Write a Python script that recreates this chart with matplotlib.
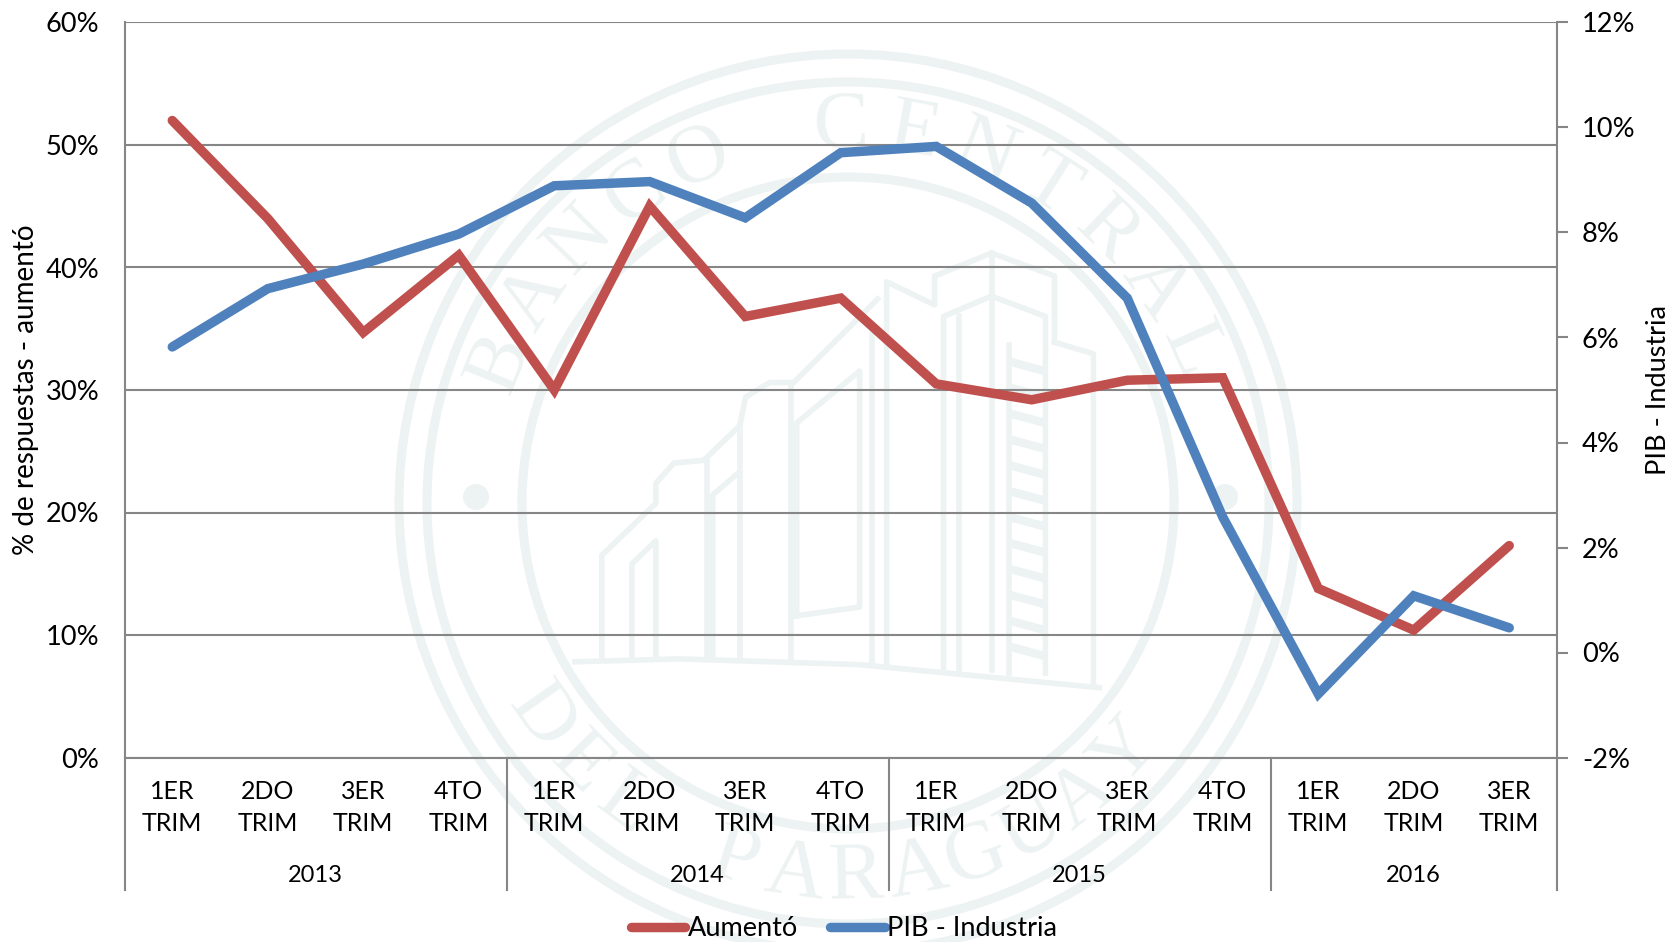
import numpy as np
import matplotlib
matplotlib.use("Agg")
import matplotlib.pyplot as plt
from matplotlib.patches import Circle
from matplotlib.transforms import blended_transform_factory

plt.rcParams['font.family'] = ['Lato', 'DejaVu Sans']

quarters = ['1ER\nTRIM', '2DO\nTRIM', '3ER\nTRIM', '4TO\nTRIM'] * 3 + ['1ER\nTRIM', '2DO\nTRIM', '3ER\nTRIM']
years = ['2013', '2014', '2015', '2016']
year_counts = [4, 4, 4, 3]
aumento = [52, 44, 34.7, 41, 30, 45, 36, 37.5, 30.5, 29.2, 30.8, 31, 13.8, 10.4, 17.3]
pib = [5.82, 6.93, 7.4, 7.97, 8.89, 8.97, 8.28, 9.52, 9.64, 8.56, 6.75, 2.58, -0.79, 1.08, 0.47]
left_ticks = [0, 10, 20, 30, 40, 50, 60]
right_ticks = [-2, 0, 2, 4, 6, 8, 10, 12]

W, H = 1673, 942
RED, BLUE, GRID, WM = '#C0504D', '#4F81BD', '#868686', '#EDF2F2'
FS = 18
FS_BIG = 19.6

fig = plt.figure(figsize=(W / 100, H / 100), dpi=100, facecolor='white')

# ---- watermark seal (pixel coordinates) ----
bg = fig.add_axes([0, 0, 1, 1], zorder=-1)
bg.set_xlim(0, W); bg.set_ylim(H, 0); bg.axis('off')
cx, cy = 848, 503
for r in (449, 421, 326):
    bg.add_patch(Circle((cx, cy), r, fill=False, ec=WM, lw=6.5))
for dx in (-372, 377):
    bg.add_patch(Circle((cx + dx, 497), 13, fc=WM, ec='none'))

def arc_text(s, a0, a1, r, top=True):
    n = len(s)
    for i, ch in enumerate(s):
        a = np.radians(a0 + (a1 - a0) * i / (n - 1))
        if top:
            x, y = cx + r * np.sin(a), cy - r * np.cos(a)
            rot = -np.degrees(a)
        else:
            x, y = cx + r * np.sin(a), cy + r * np.cos(a)
            rot = np.degrees(a)
        bg.text(x, y, ch, rotation=rot, rotation_mode='anchor', ha='center', va='center',
                fontsize=60, color=WM, family='Liberation Serif')

arc_text('BANCO CENTRAL', -68, 66, 375, True)
arc_text('DEL PARAGUAY', -55, 48, 375, False)

def P(pts):
    a = np.array(pts, dtype=float)
    return a[:, 0] / 1.668 + 380, a[:, 1] / 1.737 + 40

building = [
    [(325, 1080), (500, 1075), (800, 1085), (1200, 1125)],
    [(370, 1075), (370, 895), (460, 805), (460, 770), (490, 735), (540, 730), (600, 670), (610, 620),
     (650, 595), (690, 595), (830, 450)],
    [(420, 1075), (420, 910), (460, 870), (460, 1075)],
    [(545, 730), (545, 1075)], [(555, 1075), (555, 790), (600, 750)], [(600, 670), (600, 1075)],
    [(685, 595), (685, 1075)],
    [(695, 1000), (800, 985), (800, 575), (695, 665), (695, 1000)],
    [(820, 510), (820, 1080)],
    [(845, 1085), (845, 420), (925, 460), (925, 410), (1020, 370), (1125, 410), (1125, 520)],
    [(940, 1090), (940, 480), (1020, 445), (1110, 480), (1110, 1100)],
    [(965, 1095), (965, 480)], [(1020, 370), (1020, 1095)],
    [(1190, 1120), (1190, 545), (1125, 525)], [(1050, 530), (1050, 1100)],
]
for seg in building:
    bg.plot(*P(seg), color=WM, lw=4, solid_joinstyle='round')
for yy in np.arange(560, 1100, 45):
    bg.plot(*P([(1055, yy), (1105, yy + 14)]), color=WM, lw=6)

# ---- main axes ----
L, R, T, B = 124.5, 1557, 22.5, 757.5
ax = fig.add_axes([L / W, 1 - B / H, (R - L) / W, (B - T) / H])
ax.patch.set_alpha(0)
x = np.arange(len(aumento))
ax.set_xlim(-0.5, len(aumento) - 0.5)
ax.set_ylim(0, 60)
ax.set_yticks(left_ticks)
ax.set_yticklabels([f'{v}%' for v in left_ticks], fontsize=FS_BIG, color='black')
ax.tick_params(axis='y', length=0, pad=18)
ax.grid(axis='y', color=GRID, lw=1.5)
ax.set_axisbelow(True)
ax.set_xticks(x)
ax.set_xticklabels(quarters, fontsize=FS, linespacing=1.45)
ax.tick_params(axis='x', length=0, pad=16.5)
for s in ('top', 'right'):
    ax.spines[s].set_visible(False)
for s in ('left', 'bottom'):
    ax.spines[s].set_color(GRID); ax.spines[s].set_linewidth(1.5)
ax.set_ylabel('% de respuestas - aumentó', fontsize=20, va='center')
ax.yaxis.set_label_coords((26 - L) / (R - L), 0.5)
l1, = ax.plot(x, aumento, color=RED, lw=6.8, solid_capstyle='round', solid_joinstyle='miter', label='Aumentó')

ax2 = ax.twinx()
ax2.patch.set_alpha(0)
ax2.set_ylim(-2, 12)
ax2.set_yticks(right_ticks)
ax2.set_yticklabels([f'{v}%' for v in right_ticks], fontsize=FS_BIG)
ax2.tick_params(axis='y', length=8, width=1.5, color=GRID, pad=10)
for s in ('top', 'left', 'bottom'):
    ax2.spines[s].set_visible(False)
ax2.spines['right'].set_color(GRID); ax2.spines['right'].set_linewidth(1.5)
ax2.set_ylabel('PIB - Industria', fontsize=19.5, va='center')
ax2.yaxis.set_label_coords((1659 - L) / (R - L), 0.5)
l2, = ax2.plot(x, pib, color=BLUE, lw=6.8, solid_capstyle='round', solid_joinstyle='miter', label='PIB - Industria')

# multi-level category axis
tr = blended_transform_factory(ax.transData, ax.transAxes)
drop = -(890 - B) / (B - T)
edges = np.concatenate([[0], np.cumsum(year_counts)]) - 0.5
for e in edges:
    ax.plot([e, e], [0, drop], transform=tr, color=GRID, lw=1.5, clip_on=False)
for i, y in enumerate(years):
    ax.text((edges[i] + edges[i + 1]) / 2, -(875 - B) / (B - T), y, transform=tr,
            ha='center', va='center', fontsize=FS - 1)

leg = fig.legend(handles=[l1, l2], loc='center', bbox_to_anchor=(0.5045, 1 - 929 / H), ncol=2, frameon=False,
                 fontsize=19.5, handlelength=2.0, handletextpad=0.1, columnspacing=1.2, borderpad=0)

fig.savefig('out.png', dpi=100, facecolor='white')
